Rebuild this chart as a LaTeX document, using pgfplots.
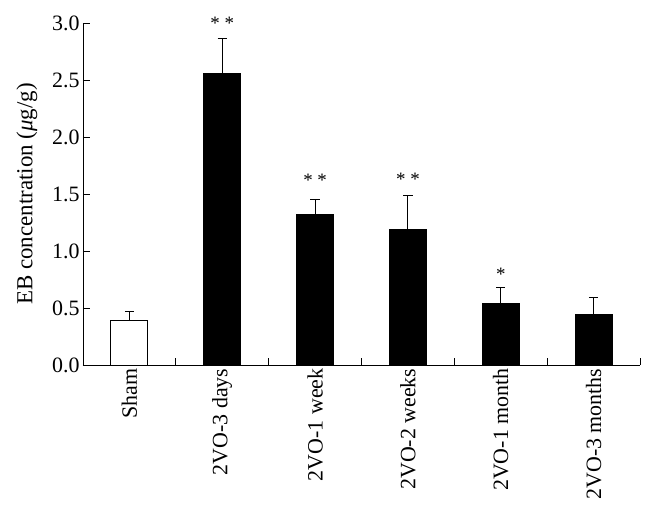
\documentclass[border=0pt]{standalone}
\usepackage{pgfplots}
\pgfplotsset{compat=1.18}
\usepackage{fontspec}
\setmainfont{Liberation Serif}
\begin{document}
\begin{tikzpicture}
\begin{axis}[
  at={(0,0)}, anchor=south west,
  scale only axis, width=557bp, height=342bp,
  xmin=-0.5, xmax=5.5, ymin=0, ymax=3,
  axis lines*=left,
  axis line style={line width=1pt},
  xtick={-0.5,0.5,1.5,2.5,3.5,4.5,5.5},
  x tick label as interval,
  xticklabels={Sham,2VO-3 days,2VO-1 week,2VO-2 weeks,2VO-1 month,2VO-3 months},
  xticklabel style={rotate=90, anchor=east, font=\fontsize{22}{26}\selectfont},
  ytick={0,0.5,1,1.5,2,2.5,3},
  yticklabel style={font=\fontsize{22}{26}\selectfont, /pgf/number format/.cd, fixed, fixed zerofill, precision=1},
  /pgf/number format/assume math mode=true,
  tick align=inside, major tick length=7bp,
  tick style={black, line width=1pt},
  ylabel style={font=\fontsize{23}{27}\selectfont, yshift=8bp},
  ylabel={EB concentration (\textit{μ}g/g)},
  clip=false,
]
\addplot[ybar, bar width=0.4, bar shift=0pt, fill=white, draw=black, line width=1pt,
  error bars/.cd, y dir=plus, y explicit,
  error bar style={line width=1pt, black},
  error mark options={rotate=90, mark size=4.6bp, line width=1pt, black}]
  coordinates {(0,0.39) +- (0,0.075)};
\addplot[ybar, bar width=0.4, bar shift=0pt, fill=black, draw=black, line width=1pt,
  error bars/.cd, y dir=plus, y explicit,
  error bar style={line width=1pt, black},
  error mark options={rotate=90, mark size=4.6bp, line width=1pt, black}]
  coordinates {
    (1,2.56) +- (0,0.30)
    (2,1.32) +- (0,0.135)
    (3,1.19) +- (0,0.30)
    (4,0.54) +- (0,0.14)
    (5,0.445) +- (0,0.145)
  };
\node[font=\fontsize{19}{22}\selectfont] at (axis cs:1,2.997) {* *};
\node[font=\fontsize{19}{22}\selectfont] at (axis cs:2,1.62) {* *};
\node[font=\fontsize{19}{22}\selectfont] at (axis cs:3,1.633) {* *};
\node[font=\fontsize{19}{22}\selectfont] at (axis cs:4,0.794) {*};
\end{axis}
\pgfresetboundingbox
\path[use as bounding box] (-83bp,-157bp) rectangle (565bp,365bp);
\end{tikzpicture}
\end{document}
